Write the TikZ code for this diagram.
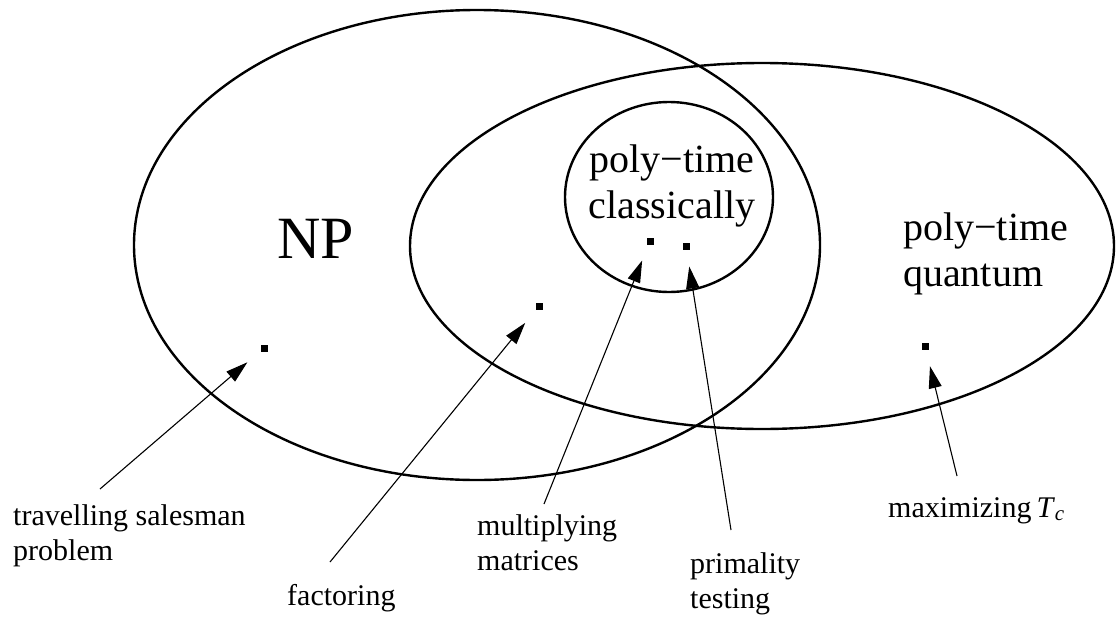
\documentclass[tikz,border=0pt]{standalone}
\usepackage{fontspec}
\setmainfont{Liberation Serif}
\usetikzlibrary{arrows.meta, calc}

\begin{document}
\begin{tikzpicture}[
  x=1pt, y=-1pt,
  set/.style={line width=2.4pt},
  big/.style={font=\fontsize{40}{46}\selectfont, align=center, inner sep=0pt},
  lbl/.style={font=\fontsize{30}{35}\selectfont, align=left, inner sep=0pt, anchor=base west},
  prob/.style={rectangle, fill, inner sep=0pt, minimum size=7pt},
  pointer/.style={-{Triangle[length=22pt, width=13pt]}, line width=1.1pt, shorten >=17pt},
]
  \useasboundingbox (0,0) rectangle (1116,621);

  % Complexity classes
  \draw[set] (477,245) ellipse [x radius=343, y radius=235];
  \draw[set] (762,246) ellipse [x radius=352, y radius=183];
  \draw[set] (669,197) ellipse [x radius=104, y radius=95];

  \node[font=\fontsize{60}{60}\selectfont, inner sep=0pt, anchor=base] (np) at (316,258) {NP};
  \node[big, anchor=base] (classical) at (672,218) {poly−time\\classically};
  \node[big, align=left, anchor=base west] (quantum) at (903,286) {poly−time\\quantum};

  % Problems
  \node[prob] (tspdot) at (264,348) {};
  \node[prob] (factdot) at (539,306) {};
  \node[prob] (multdot) at (650,241) {};
  \node[prob] (primedot) at (686,246) {};
  \node[prob] (tcdot) at (925,346) {};

  \node[lbl] (tsp) at (13,560) {travelling salesman\\problem};
  \node[lbl] (fact) at (287,605) {factoring};
  \node[lbl] (mult) at (477,570) {multiplying\\matrices};
  \node[lbl] (prime) at (690,608) {primality\\testing};
  \node[lbl] (tc) at (888,517) {maximizing\,\textit{T}\textsubscript{\textit{c}}};

  \draw[pointer] ($(tsp.base west)+(87,-71)$) -- (tspdot);
  \draw[pointer] ($(fact.base west)+(43,-43)$) -- (factdot);
  \draw[pointer] ($(mult.base west)+(67,-66)$) -- (multdot);
  \draw[pointer] ($(prime.base west)+(41,-78)$) -- (primedot);
  \draw[pointer] ($(tc.base west)+(69,-41)$) -- (tcdot);
\end{tikzpicture}
\end{document}
